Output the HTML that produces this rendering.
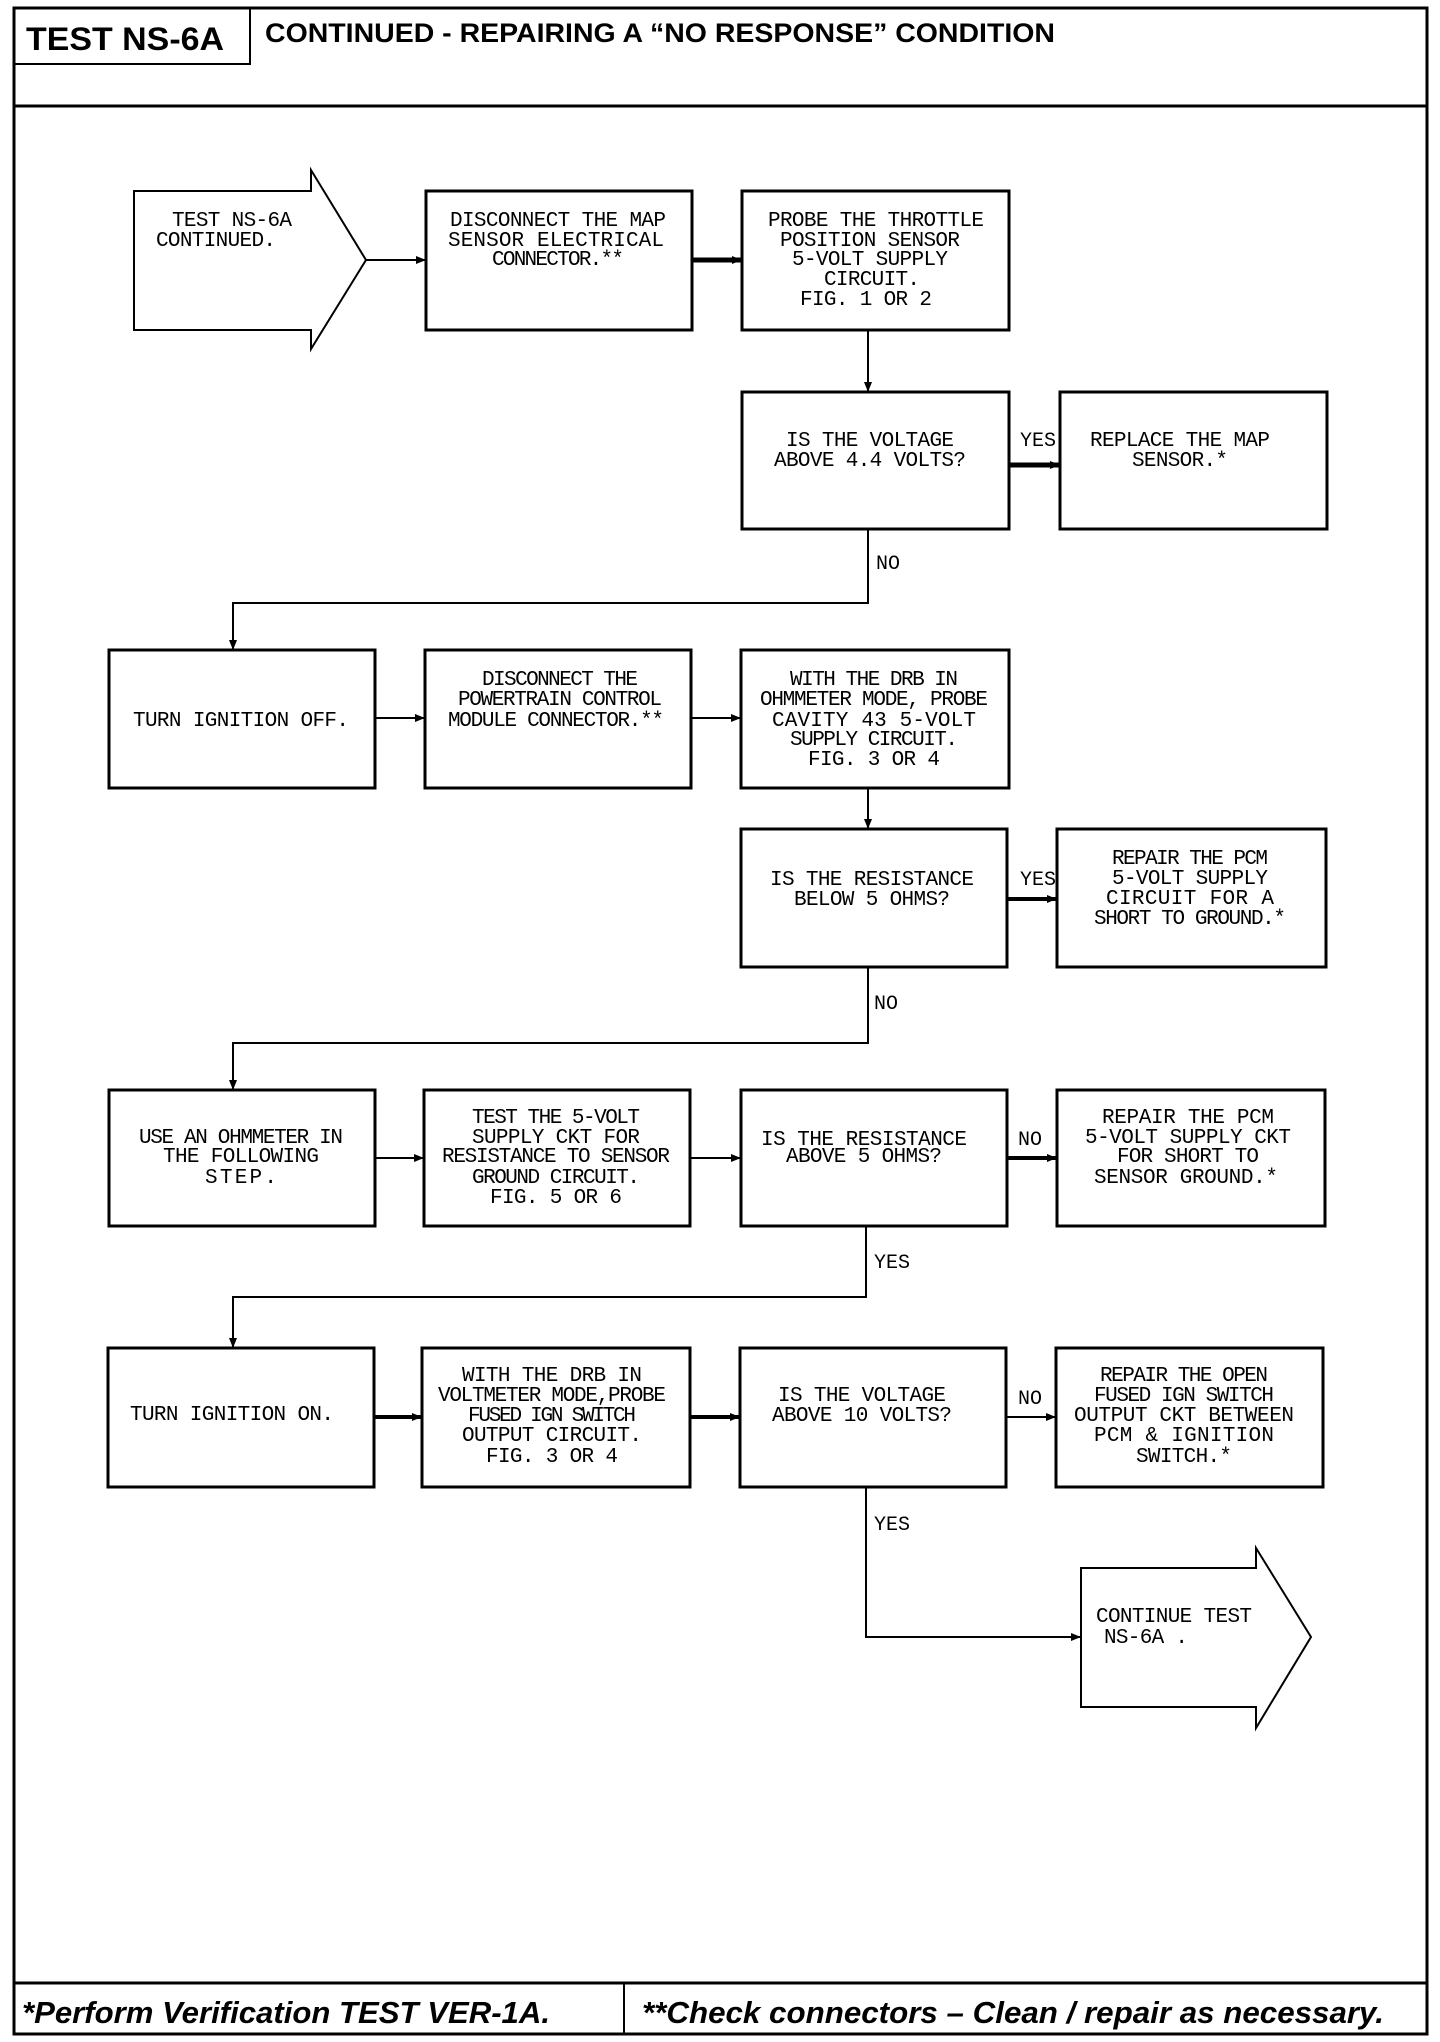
<!DOCTYPE html>
<html><head><meta charset="utf-8"><style>
html,body{margin:0;padding:0;background:#fff;}
svg{display:block;}
.t{font-family:"Liberation Mono",monospace;font-size:21px;fill:#000;}
.l{font-family:"Liberation Mono",monospace;font-size:20px;fill:#000;}
</style></head><body>
<svg width="1440" height="2042" viewBox="0 0 1440 2042" xmlns="http://www.w3.org/2000/svg">
<defs>
<marker id="a" markerWidth="10" markerHeight="10" refX="9" refY="5" orient="auto" markerUnits="userSpaceOnUse"><path d="M0,1 L10,5 L0,9 z" fill="#000"/></marker>
</defs>
<g fill="none" stroke="#000">
<rect x="14" y="8" width="1413" height="2026" stroke-width="3"/>
<polyline points="14,64 250,64 250,8" stroke-width="2"/>
<line x1="14" y1="106" x2="1427" y2="106" stroke-width="3"/>
<line x1="14" y1="1983" x2="1427" y2="1983" stroke-width="3"/>
<line x1="624" y1="1983" x2="624" y2="2034" stroke-width="2"/>

<polygon points="134,191 311,191 311,170 366,260 311,349 311,330 134,330" stroke-width="2"/>
<rect x="426" y="191" width="266" height="139" stroke-width="3"/>
<rect x="742" y="191" width="267" height="139" stroke-width="3"/>
<rect x="742" y="392" width="267" height="137" stroke-width="3"/>
<rect x="1060" y="392" width="267" height="137" stroke-width="3"/>

<rect x="109" y="650" width="266" height="138" stroke-width="3"/>
<rect x="425" y="650" width="266" height="138" stroke-width="3"/>
<rect x="741" y="650" width="268" height="138" stroke-width="3"/>
<rect x="741" y="829" width="266" height="138" stroke-width="3"/>
<rect x="1057" y="829" width="269" height="138" stroke-width="3"/>

<rect x="109" y="1090" width="266" height="136" stroke-width="3"/>
<rect x="424" y="1090" width="266" height="136" stroke-width="3"/>
<rect x="741" y="1090" width="266" height="136" stroke-width="3"/>
<rect x="1057" y="1090" width="268" height="136" stroke-width="3"/>

<rect x="108" y="1348" width="266" height="139" stroke-width="3"/>
<rect x="422" y="1348" width="268" height="139" stroke-width="3"/>
<rect x="740" y="1348" width="266" height="139" stroke-width="3"/>
<rect x="1056" y="1348" width="267" height="139" stroke-width="3"/>

<polygon points="1081,1568 1256,1568 1256,1548 1311,1637 1256,1728 1256,1707 1081,1707" stroke-width="2"/>

<g stroke-width="2" marker-end="url(#a)">
<line x1="366" y1="260" x2="425" y2="260"/>
<line x1="692" y1="260" x2="741" y2="260" stroke-width="5"/>
<line x1="868" y1="330" x2="868" y2="391"/>
<line x1="1009" y1="465" x2="1059" y2="465" stroke-width="5"/>
<polyline points="868,529 868,603 233,603 233,649"/>
<line x1="375" y1="718" x2="424" y2="718"/>
<line x1="691" y1="718" x2="740" y2="718"/>
<line x1="868" y1="788" x2="868" y2="828"/>
<line x1="1007" y1="899" x2="1056" y2="899" stroke-width="4"/>
<polyline points="868,967 868,1043 233,1043 233,1089"/>
<line x1="375" y1="1158" x2="423" y2="1158"/>
<line x1="690" y1="1158" x2="740" y2="1158"/>
<line x1="1007" y1="1158" x2="1056" y2="1158" stroke-width="4"/>
<polyline points="866,1226 866,1297 233,1297 233,1347"/>
<line x1="374" y1="1417" x2="421" y2="1417" stroke-width="4"/>
<line x1="690" y1="1417" x2="739" y2="1417" stroke-width="4"/>
<line x1="1006" y1="1417" x2="1055" y2="1417"/>
<polyline points="866,1487 866,1637 1080,1637"/>
</g>
</g>

<text x="26" y="50" font-family="Liberation Sans,sans-serif" font-weight="bold" font-size="32" textLength="198" lengthAdjust="spacingAndGlyphs">TEST NS-6A</text>
<text x="265" y="42" font-family="Liberation Sans,sans-serif" font-weight="bold" font-size="27" textLength="790" lengthAdjust="spacingAndGlyphs">CONTINUED -  REPAIRING A “NO RESPONSE” CONDITION</text>
<text x="22" y="2023" font-family="Liberation Sans,sans-serif" font-weight="bold" font-style="italic" font-size="31" textLength="528" lengthAdjust="spacingAndGlyphs">*Perform Verification TEST VER-1A.</text>
<text x="642" y="2023" font-family="Liberation Sans,sans-serif" font-weight="bold" font-style="italic" font-size="31" textLength="742" lengthAdjust="spacingAndGlyphs">**Check connectors – Clean / repair as necessary.</text>

<g class="t" text-anchor="middle" lengthAdjust="spacingAndGlyphs">
<text x="232" y="226" textLength="120">TEST NS-6A</text>
<text x="216" y="246" textLength="120">CONTINUED.</text>

<text x="558" y="226" textLength="216">DISCONNECT THE MAP</text>
<text x="556" y="246" textLength="216">SENSOR ELECTRICAL</text>
<text x="558" y="265" textLength="132">CONNECTOR.**</text>

<text x="876" y="226" textLength="216">PROBE THE THROTTLE</text>
<text x="870" y="246" textLength="180">POSITION SENSOR</text>
<text x="870" y="265" textLength="156">5-VOLT SUPPLY</text>
<text x="872" y="285" textLength="96">CIRCUIT.</text>
<text x="866" y="305" textLength="132">FIG. 1 OR 2</text>

<text x="870" y="446" textLength="168">IS THE VOLTAGE</text>
<text x="870" y="466" textLength="192">ABOVE 4.4 VOLTS?</text>
<text x="1180" y="446" textLength="180">REPLACE THE MAP</text>
<text x="1180" y="466" textLength="96">SENSOR.*</text>

<text x="241" y="726" textLength="216">TURN IGNITION OFF.</text>
<text x="560" y="685" textLength="156">DISCONNECT THE</text>
<text x="560" y="705" textLength="204">POWERTRAIN CONTROL</text>
<text x="556" y="726" textLength="216">MODULE CONNECTOR.**</text>

<text x="874" y="685" textLength="168">WITH THE DRB IN</text>
<text x="874" y="705" textLength="228">OHMMETER MODE, PROBE</text>
<text x="874" y="726" textLength="204">CAVITY 43 5-VOLT</text>
<text x="874" y="745" textLength="168">SUPPLY CIRCUIT.</text>
<text x="874" y="765" textLength="132">FIG. 3 OR 4</text>

<text x="872" y="885" textLength="204">IS THE RESISTANCE</text>
<text x="872" y="905" textLength="156">BELOW 5 OHMS?</text>
<text x="1190" y="864" textLength="156">REPAIR THE PCM</text>
<text x="1190" y="884" textLength="156">5-VOLT SUPPLY</text>
<text x="1190" y="904" textLength="168">CIRCUIT FOR A</text>
<text x="1190" y="924" textLength="192">SHORT TO GROUND.*</text>

<text x="241" y="1143" textLength="204">USE AN OHMMETER IN</text>
<text x="241" y="1162" textLength="156">THE FOLLOWING</text>
<text x="241" y="1183" textLength="72">STEP.</text>
<text x="556" y="1123" textLength="168">TEST THE 5-VOLT</text>
<text x="556" y="1143" textLength="168">SUPPLY CKT FOR</text>
<text x="556" y="1162" textLength="228">RESISTANCE TO SENSOR</text>
<text x="556" y="1183" textLength="168">GROUND CIRCUIT.</text>
<text x="556" y="1203" textLength="132">FIG. 5 OR 6</text>

<text x="864" y="1145" textLength="206">IS THE RESISTANCE</text>
<text x="864" y="1162" textLength="156">ABOVE 5 OHMS?</text>
<text x="1188" y="1123" textLength="172">REPAIR THE PCM</text>
<text x="1188" y="1143" textLength="206">5-VOLT SUPPLY CKT</text>
<text x="1188" y="1162" textLength="142">FOR SHORT TO</text>
<text x="1186" y="1183" textLength="184">SENSOR GROUND.*</text>

<text x="232" y="1420" textLength="204">TURN IGNITION ON.</text>
<text x="552" y="1381" textLength="180">WITH THE DRB IN</text>
<text x="552" y="1401" textLength="228">VOLTMETER MODE,PROBE</text>
<text x="552" y="1421" textLength="168">FUSED IGN SWITCH</text>
<text x="552" y="1441" textLength="180">OUTPUT CIRCUIT.</text>
<text x="552" y="1462" textLength="132">FIG. 3 OR 4</text>

<text x="862" y="1401" textLength="168">IS THE VOLTAGE</text>
<text x="862" y="1421" textLength="180">ABOVE 10 VOLTS?</text>
<text x="1184" y="1381" textLength="168">REPAIR THE OPEN</text>
<text x="1184" y="1401" textLength="180">FUSED IGN SWITCH</text>
<text x="1184" y="1421" textLength="220">OUTPUT CKT BETWEEN</text>
<text x="1184" y="1441" textLength="180">PCM &amp; IGNITION</text>
<text x="1184" y="1462" textLength="96">SWITCH.*</text>

<text x="1174" y="1622" textLength="156">CONTINUE TEST</text>
<text x="1146" y="1643" textLength="84">NS-6A .</text>
</g>
<g class="l" lengthAdjust="spacingAndGlyphs">
<text x="1020" y="446">YES</text>
<text x="876" y="569">NO</text>
<text x="1020" y="885">YES</text>
<text x="874" y="1009">NO</text>
<text x="1018" y="1145">NO</text>
<text x="874" y="1268">YES</text>
<text x="1018" y="1404">NO</text>
<text x="874" y="1530">YES</text>
</g>
</svg>
</body></html>
